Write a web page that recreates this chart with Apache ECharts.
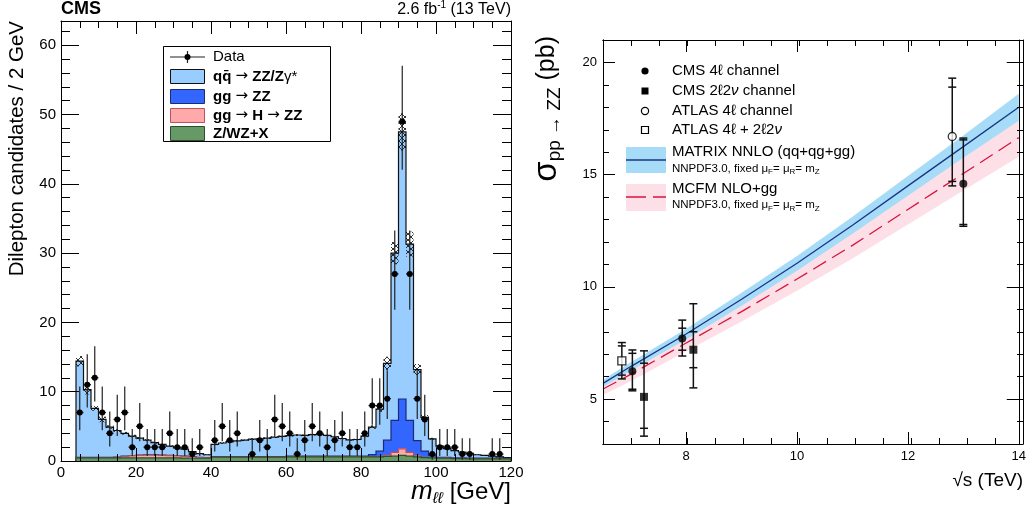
<!DOCTYPE html>
<html><head><meta charset="utf-8">
<script src="https://cdn.jsdelivr.net/npm/echarts@6/dist/echarts.min.js"></script>
<style>html,body{margin:0;padding:0;background:#fff}#c{width:1029px;height:514px}</style>
</head><body><div id="c"></div>
<script>
// ---------------- LEFT PANEL DATA (m_ll, 2 GeV bins) ----------------
const binLow = [4,6,8,10,12,14,16,18,20,22,24,26,28,30,32,34,36,38,40,42,44,46,48,50,52,54,56,58,60,62,64,66,68,70,72,74,76,78,80,82,84,86,88,90,92,94,96,98,100,102,104,106,108,110,112,114,116,118];
const binWidth = 2;
const dataCounts = [7,11,12,7,4,6,7,2,5,2,2,2,4,2,2,1,2,0,
  3,5,3,4,0,1,3,2,6,5,4,1,3,5,4,2,3,4,2,2,4,8,8,9,27,49,27,9,6,1,2,2,2,1,1,0,0,1,1,0];
const zwzx = [0.45,0.45,0.45,0.45,0.45,0.45,0.45,0.45,0.45,0.45,0.45,0.45,0.45,0.45,0.42,0.4,0.4,0.4,
  0.55,0.55,0.55,0.55,0.55,0.55,0.55,0.55,0.55,0.55,
  0.6,0.6,0.6,0.6,0.6,0.6,0.6,0.6,0.6,0.6,0.6,0.6,0.6,
  0.65,0.7,0.8,0.7,0.6,0.5,0.45,0.4,0.4,0.35,0.35,0.3,0.3,0.3,0.3,0.3,0.3];
const ggH = [0.02,0.02,0.02,0.02,0.03,0.08,0.2,0.3,0.35,0.38,0.38,0.36,0.33,0.3,0.25,0.18,0.1,0.05,
  0.02,0.02,0.02,0.02,0.02,0.02,0.02,0.02,0.02,0.02,0.02,0.02,0.02,0.02,0.02,0.02,0.02,0.02,0.02,0.02,0.02,0.02,0.02,
  0.15,0.55,0.95,0.55,0.15,0.03,0.02,0.02,0.02,0.02,0.02,0.02,0.02,0.02,0.02,0.02,0.02];
const ggZZ = [0.04,0.04,0.04,0.04,0.04,0.04,0.04,0.04,0.04,0.04,0.04,0.04,0.04,0.04,0.04,0.04,0.04,0.04,
  0.08,0.08,0.08,0.08,0.08,0.08,0.08,0.08,0.08,0.08,0.08,0.08,0.08,0.08,0.08,0.08,0.08,0.08,0.08,0.08,0.08,
  0.3,0.8,2.2,4.6,7.2,4.6,2.2,0.9,0.35,
  0.1,0.1,0.1,0.1,0.1,0.1,0.1,0.1,0.1,0.1];
const qqZZ = [13.89,9.79,7.09,5.49,4.38,3.83,3.31,2.81,2.46,2.13,1.78,1.55,1.33,1.11,0.99,0.73,0.51,0.41,
  1.75,1.95,2.15,2.25,2.35,2.5,2.55,2.65,2.8,2.9,
  2.95,3.05,3.0,3.1,3.15,3.0,2.8,2.55,2.35,2.4,
  2.9,3.98,6.08,11.1,24.15,38.55,25.45,10.25,4.87,2.38,
  1.63,1.28,1.03,0.83,0.68,0.48,0.38,0.28,0.18,0.08];
const mcUnc = [0.75,0.7,0.35,0.4,0.25,0.2,0.2,0.18,0.15,0.15,0.15,0.12,0.12,0.12,0.1,0.1,0.08,0.08,
  0.12,0.12,0.12,0.12,0.12,0.12,0.12,0.12,0.12,0.12,0.12,0.12,0.12,0.12,0.12,0.12,0.12,0.12,0.12,0.12,
  0.15,0.25,0.4,0.95,1.6,2.7,1.8,0.8,0.35,0.15,
  0.1,0.1,0.08,0.08,0.08,0.06,0.06,0.06,0.06,0.05];
const leftXTicks = [0,20,40,60,80,100,120];
const leftYTicks = [0,10,20,30,40,50,60];

// ---------------- RIGHT PANEL DATA (sigma vs sqrt(s)) ----------------
const sqrtS     = [6.5, 7, 8, 9, 10, 11, 12, 13, 14];
const matrix    = [5.7, 6.45, 7.9, 9.45, 11.05, 12.75, 14.5, 16.25, 18.0];
const matrixLo  = [5.54, 6.26, 7.66, 9.16, 10.72, 12.37, 14.06, 15.75, 17.4];
const matrixHi  = [5.86, 6.64, 8.14, 9.74, 11.38, 13.13, 14.94, 16.75, 18.6];
const mcfm      = [5.45, 6.1, 7.5, 8.9, 10.35, 11.85, 13.45, 15.05, 16.65];
const mcfmLo    = [5.18, 5.8, 7.13, 8.46, 9.83, 11.26, 12.78, 14.3, 15.8];
const mcfmHi    = [5.72, 6.4, 7.88, 9.35, 10.87, 12.44, 14.12, 15.8, 17.5];
// [x, y, statDn, statUp, totDn, totUp]
const cms4l    = [[7.03, 6.24, 0.80, 0.80, 0.87, 0.95], [7.93, 7.7, 0.52, 0.46, 0.78, 0.82], [13.0, 14.6, 1.82, 1.95, 1.9, 2.03]];
const cms2l2v  = [[7.24, 5.1, 1.4, 1.5, 1.75, 2.05], [8.13, 7.2, 0.8, 0.8, 1.7, 2.05]];
const atlas4l  = [[12.8, 16.7, 2.0, 2.2, 2.2, 2.6]];
const atlasAll = [[6.84, 6.7, 0.63, 0.67, 0.8, 0.82]];
const rightXTicks = [8, 10, 12, 14];
const rightYTicks = [5, 10, 15, 20];

// ---------------- helpers ----------------
const FONT = '"Liberation Sans", Arial, Helvetica, sans-serif';
const C_QQ = '#99ccff', C_GG = '#3366ff', C_H = '#ffaaaa', C_X = '#669966';
const S_QQ = '#111111', S_GG = '#1c2a78', S_H = '#c0505a', S_X = '#2a4f2a';

function cumsum(arrs) {
  const out = []; let acc = binLow.map(() => 0);
  arrs.forEach(a => { acc = acc.map((v, i) => v + a[i]); out.push(acc.slice()); });
  return out;
}
const [cX, cH, cGG, cTot] = cumsum([zwzx, ggH, ggZZ, qqZZ]);
const zeros = binLow.map(() => 0);

function garwoodLo(n) { if (n === 0) return 0; return n * Math.pow(1 - 1 / (9 * n) - 1 / (3 * Math.sqrt(n)), 3); }
function garwoodHi(n) { const m = n + 1; return m * Math.pow(1 - 1 / (9 * m) + 1 / (3 * Math.sqrt(m)), 3); }

// hatch pattern
const pc = document.createElement('canvas'); pc.width = 6; pc.height = 6;
(function () { const g = pc.getContext('2d'); g.strokeStyle = '#000'; g.lineWidth = 0.8;
  g.beginPath(); g.moveTo(0, 0); g.lineTo(6, 6); g.moveTo(6, 0); g.lineTo(0, 6); g.stroke(); })();

function stepSeries(name, base, top, fill, stroke) {
  const n = binLow.length;
  return {
    type: 'custom', name, xAxisIndex: 0, yAxisIndex: 0, clip: true, silent: true,
    data: binLow.map((x, i) => [x, top[i]]),
    renderItem: (params, api) => {
      if (params.dataIndex !== 0) return null;
      const pts = [], line = [api.coord([binLow[0], 0])];
      for (let i = 0; i < n; i++) {
        const a = api.coord([binLow[i], top[i]]), b = api.coord([binLow[i] + binWidth, top[i]]);
        pts.push(a, b); line.push(a, b);
      }
      line.push(api.coord([binLow[n - 1] + binWidth, 0]));
      for (let i = n - 1; i >= 0; i--) {
        pts.push(api.coord([binLow[i] + binWidth, base[i]]), api.coord([binLow[i], base[i]]));
      }
      return { type: 'group', children: [
        { type: 'polygon', shape: { points: pts }, style: { fill: fill, stroke: null } },
        { type: 'polyline', shape: { points: line }, style: { fill: null, stroke: stroke, lineWidth: 1.2 } }
      ] };
    }
  };
}

function bandSeries(lo, hi, fill) {
  return {
    type: 'custom', xAxisIndex: 2, yAxisIndex: 2, clip: true, silent: true,
    data: sqrtS.map((x, i) => [x, lo[i], hi[i]]),
    renderItem: (params, api) => {
      if (params.dataIndex !== 0) return null;
      const pts = [];
      for (let i = 0; i < sqrtS.length; i++) pts.push(api.coord([sqrtS[i], hi[i]]));
      for (let i = sqrtS.length - 1; i >= 0; i--) pts.push(api.coord([sqrtS[i], lo[i]]));
      return { type: 'polygon', shape: { points: pts }, style: { fill: fill, stroke: null } };
    }
  };
}

function errSeries(points) {
  return {
    type: 'custom', xAxisIndex: 2, yAxisIndex: 2, silent: true, z: 4,
    data: points,
    renderItem: (params, api) => {
      const x = api.value(0), y = api.value(1);
      const sD = api.value(2), sU = api.value(3), tD = api.value(4), tU = api.value(5);
      const p = api.coord([x, y]);
      const ys = [y - tD, y + tU, y - sD, y + sU].map(v => api.coord([x, v])[1]);
      const st = { stroke: '#111', lineWidth: 1.5 };
      const ch = [{ type: 'line', shape: { x1: p[0], y1: ys[0], x2: p[0], y2: ys[1] }, style: st }];
      ys.forEach(yy => ch.push({ type: 'line', shape: { x1: p[0] - 4, y1: yy, x2: p[0] + 4, y2: yy }, style: st }));
      return { type: 'group', children: ch };
    }
  };
}

function T(x, y, text, o) {
  o = o || {};
  const st = {
    text: text, x: 0, y: 0, fill: '#000',
    fontSize: o.size || 14, fontFamily: FONT, fontWeight: o.weight || 'normal', fontStyle: o.style || 'normal',
    textAlign: o.align || 'left', align: o.align || 'left',
    textVerticalAlign: 'middle', verticalAlign: 'middle'
  };
  if (o.lineHeight) st.lineHeight = o.lineHeight;
  if (o.rich) st.rich = o.rich;
  return { type: 'text', x: x, y: y, rotation: o.rot || 0, z: 100, style: st };
}

// ---------------- chart ----------------
const chart = echarts.init(document.getElementById('c'), null, { renderer: 'canvas' });

const axBase = (extra) => Object.assign({
  type: 'value', splitLine: { show: false },
  axisLine: { show: true, onZero: false, lineStyle: { color: '#000', width: 1 } },
  axisLabel: { show: false },
  z: 10
}, extra);

const option = {
  animation: false,
  backgroundColor: '#fff',
  grid: [
    { left: 61, top: 21, width: 450, height: 440 },
    { left: 603, top: 40, width: 420, height: 404 },
    { left: 603, top: 40, width: 420, height: 404 }
  ],
  xAxis: [
    axBase({ gridIndex: 0, position: 'bottom', min: 0, max: 120, interval: 20,
      axisTick: { inside: true, length: 13, lineStyle: { color: '#000' } },
      minorTick: { show: true, splitNumber: 4, length: 7, lineStyle: { color: '#000' } },
      axisLabel: { show: true, fontSize: 15, color: '#000', fontFamily: FONT, margin: 4 } }),
    axBase({ gridIndex: 0, position: 'top', min: 0, max: 120, interval: 20,
      axisTick: { inside: true, length: 13, lineStyle: { color: '#000' } },
      minorTick: { show: true, splitNumber: 4, length: 7, lineStyle: { color: '#000' } } }),
    axBase({ gridIndex: 1, position: 'bottom', min: 6.5, max: 14,
      axisTick: { inside: true, length: 12, customValues: rightXTicks, lineStyle: { color: '#000' } },
      axisLabel: { show: true, customValues: rightXTicks, fontSize: 13, color: '#000', fontFamily: FONT, margin: 6 } }),
    axBase({ gridIndex: 1, position: 'top', min: 6.5, max: 14,
      axisTick: { inside: true, length: 12, customValues: rightXTicks, lineStyle: { color: '#000' } } }),
    axBase({ gridIndex: 2, position: 'bottom', min: 6.5, max: 14, interval: 0.5,
      axisTick: { inside: true, length: 6, lineStyle: { color: '#000' } } }),
    axBase({ gridIndex: 2, position: 'top', min: 6.5, max: 14, interval: 0.5,
      axisTick: { inside: true, length: 6, lineStyle: { color: '#000' } } })
  ],
  yAxis: [
    axBase({ gridIndex: 0, position: 'left', min: 0, max: 63.5, interval: 10,
      axisTick: { inside: true, length: 18, lineStyle: { color: '#000' } },
      minorTick: { show: true, splitNumber: 5, length: 9, lineStyle: { color: '#000' } },
      axisLabel: { show: true, fontSize: 15, color: '#000', fontFamily: FONT, margin: 5, showMaxLabel: false } }),
    axBase({ gridIndex: 0, position: 'right', min: 0, max: 63.5, interval: 10,
      axisTick: { inside: true, length: 18, lineStyle: { color: '#000' } },
      minorTick: { show: true, splitNumber: 5, length: 9, lineStyle: { color: '#000' } } }),
    axBase({ gridIndex: 1, position: 'left', min: 3, max: 21,
      axisTick: { inside: true, length: 12, customValues: rightYTicks, lineStyle: { color: '#000' } },
      axisLabel: { show: true, customValues: rightYTicks, fontSize: 13, color: '#000', fontFamily: FONT, margin: 6 } }),
    axBase({ gridIndex: 1, position: 'right', min: 3, max: 21,
      axisTick: { inside: true, length: 12, customValues: rightYTicks, lineStyle: { color: '#000' } } }),
    axBase({ gridIndex: 2, position: 'left', min: 3, max: 21, interval: 1,
      axisTick: { inside: true, length: 6, lineStyle: { color: '#000' } } }),
    axBase({ gridIndex: 2, position: 'right', min: 3, max: 21, interval: 1,
      axisTick: { inside: true, length: 6, lineStyle: { color: '#000' } } })
  ],
  series: [
    stepSeries('qqZZ', cGG, cTot, C_QQ, S_QQ),
    stepSeries('ggZZ', cH, cGG, C_GG, S_GG),
    stepSeries('ggH', cX, cH, C_H, S_H),
    stepSeries('ZWZX', zeros, cX, C_X, S_X),
    { // MC uncertainty hatch
      type: 'custom', xAxisIndex: 0, yAxisIndex: 0, clip: true, silent: true,
      data: binLow.map((x, i) => [x, cTot[i] - mcUnc[i], cTot[i] + mcUnc[i]]),
      renderItem: (params, api) => {
        const a = api.coord([api.value(0), api.value(2)]);
        const b = api.coord([api.value(0) + binWidth, api.value(1)]);
        return { type: 'rect', shape: { x: a[0], y: a[1], width: b[0] - a[0], height: b[1] - a[1] },
          style: { fill: { image: pc, repeat: 'repeat' }, stroke: null } };
      }
    },
    { // data points
      type: 'custom', xAxisIndex: 0, yAxisIndex: 0, clip: false, silent: true, z: 5,
      data: binLow.map((x, i) => [x + binWidth / 2, dataCounts[i], garwoodLo(dataCounts[i]), garwoodHi(dataCounts[i])])
                  .filter(d => d[1] > 0),
      renderItem: (params, api) => {
        const x = api.value(0), n = api.value(1);
        const c = api.coord([x, n]), a = api.coord([x - binWidth / 2, n]), b = api.coord([x + binWidth / 2, n]);
        const t = api.coord([x, api.value(3)]), d = api.coord([x, api.value(2)]);
        const st = { stroke: '#222', lineWidth: 1.2 };
        return { type: 'group', children: [
          { type: 'line', shape: { x1: c[0], y1: t[1], x2: c[0], y2: d[1] }, style: st },
          { type: 'line', shape: { x1: a[0], y1: c[1], x2: b[0], y2: c[1] }, style: st },
          { type: 'circle', shape: { cx: c[0], cy: c[1], r: 3 }, style: { fill: '#000' } }
        ] };
      }
    },
    bandSeries(mcfmLo, mcfmHi, '#fde0e7'),
    bandSeries(matrixLo, matrixHi, '#a6dcf7'),
    { type: 'line', xAxisIndex: 2, yAxisIndex: 2, symbol: 'none', silent: true, clip: true,
      data: sqrtS.map((x, i) => [x, mcfm[i]]),
      lineStyle: { color: '#d8143c', width: 1.3, type: [15, 7] } },
    { type: 'line', xAxisIndex: 2, yAxisIndex: 2, symbol: 'none', silent: true, clip: true,
      data: sqrtS.map((x, i) => [x, matrix[i]]),
      lineStyle: { color: '#1a3585', width: 1.3 } },
    errSeries(cms4l), errSeries(cms2l2v), errSeries(atlas4l), errSeries(atlasAll),
    { type: 'scatter', xAxisIndex: 2, yAxisIndex: 2, symbol: 'circle', symbolSize: 8, z: 6, silent: true,
      data: cms4l.map(p => [p[0], p[1]]), itemStyle: { color: '#000' } },
    { type: 'scatter', xAxisIndex: 2, yAxisIndex: 2, symbol: 'rect', symbolSize: 8, z: 6, silent: true,
      data: cms2l2v.map(p => [p[0], p[1]]), itemStyle: { color: '#000' } },
    { type: 'scatter', xAxisIndex: 2, yAxisIndex: 2, symbol: 'circle', symbolSize: 8, z: 6, silent: true,
      data: atlas4l.map(p => [p[0], p[1]]), itemStyle: { color: '#fff', borderColor: '#000', borderWidth: 1.3 } },
    { type: 'scatter', xAxisIndex: 2, yAxisIndex: 2, symbol: 'rect', symbolSize: 8, z: 6, silent: true,
      data: atlasAll.map(p => [p[0], p[1]]), itemStyle: { color: '#fff', borderColor: '#000', borderWidth: 1.3 } }
  ],
  graphic: [
    // ----- left panel texts -----
    T(61, 9, 'CMS', { size: 18, weight: 'bold' }),
    T(511, 10, '2.6 fb{sup|-1} (13 TeV)', { size: 16, align: 'right', lineHeight: 19,
      rich: { sup: { fontSize: 10, lineHeight: 10, verticalAlign: 'top', fontFamily: FONT, fill: '#000' } } }),
    T(17, 21, 'Dilepton candidates / 2 GeV', { size: 20.5, align: 'right', rot: Math.PI / 2 }),
    T(511, 492, '{m|m}{s|ℓℓ} [GeV]', { size: 24, align: 'right', lineHeight: 30,
      rich: { m: { fontSize: 26, fontStyle: 'italic', fontFamily: FONT, lineHeight: 30, fill: '#000' },
              s: { fontSize: 16, fontStyle: 'italic', fontFamily: FONT, lineHeight: 16, verticalAlign: 'bottom', fill: '#000' } } }),
    // left legend
    { type: 'rect', z: 90, shape: { x: 163.5, y: 46.5, width: 167, height: 95 }, style: { fill: '#fff', stroke: '#000', lineWidth: 1 } },
    { type: 'line', z: 95, shape: { x1: 170, y1: 57, x2: 205, y2: 57 }, style: { stroke: '#222', lineWidth: 1.2 } },
    { type: 'line', z: 95, shape: { x1: 187.5, y1: 51, x2: 187.5, y2: 63 }, style: { stroke: '#222', lineWidth: 1.2 } },
    { type: 'circle', z: 95, shape: { cx: 187.5, cy: 57, r: 3 }, style: { fill: '#000' } },
    { type: 'rect', z: 95, shape: { x: 170.5, y: 69.5, width: 34, height: 14 }, style: { fill: C_QQ, stroke: S_QQ, lineWidth: 1 } },
    { type: 'rect', z: 95, shape: { x: 170.5, y: 89.5, width: 34, height: 14 }, style: { fill: C_GG, stroke: S_GG, lineWidth: 1 } },
    { type: 'rect', z: 95, shape: { x: 170.5, y: 108.5, width: 34, height: 14 }, style: { fill: C_H, stroke: S_H, lineWidth: 1 } },
    { type: 'rect', z: 95, shape: { x: 170.5, y: 126.5, width: 34, height: 14 }, style: { fill: C_X, stroke: S_X, lineWidth: 1 } },
    T(213, 57, 'Data', { size: 15 }),
    T(213, 76.5, 'qq\u0304 {a|\u2192} ZZ/Z{n|\u03b3*}', { size: 15, weight: 'bold',
      rich: { n: { fontSize: 15, fontFamily: FONT, fontWeight: 'normal', fill: '#000' },
              a: { fontSize: 15, fontFamily: '"DejaVu Sans", sans-serif', fontWeight: 'normal', fill: '#000' } } }),
    T(213, 96.5, 'gg {a|\u2192} ZZ', { size: 15, weight: 'bold',
      rich: { a: { fontSize: 15, fontFamily: '"DejaVu Sans", sans-serif', fontWeight: 'normal', fill: '#000' } } }),
    T(213, 115.5, 'gg {a|\u2192} H {a|\u2192} ZZ', { size: 15, weight: 'bold',
      rich: { a: { fontSize: 15, fontFamily: '"DejaVu Sans", sans-serif', fontWeight: 'normal', fill: '#000' } } }),
    T(213, 133.5, 'Z/WZ+X', { size: 15, weight: 'bold' }),
    // ----- right panel texts -----
    T(547, 36, '{g|\u03c3}{s|pp \u2192 ZZ} (pb)', { size: 25, align: 'right', rot: Math.PI / 2, lineHeight: 34,
      rich: { g: { fontSize: 33, fontFamily: FONT, lineHeight: 34, fill: '#000' },
              s: { fontSize: 19, fontFamily: FONT, lineHeight: 18, verticalAlign: 'bottom', fill: '#000' } } }),
    T(1023, 481, '\u221as (TeV)', { size: 19, align: 'right' }),
    // right legend
    { type: 'circle', z: 95, shape: { cx: 645, cy: 71, r: 3.6 }, style: { fill: '#000' } },
    { type: 'rect', z: 95, shape: { x: 641.5, y: 87.5, width: 7, height: 7 }, style: { fill: '#000' } },
    { type: 'circle', z: 95, shape: { cx: 645, cy: 111, r: 3.6 }, style: { fill: '#fff', stroke: '#000', lineWidth: 1.2 } },
    { type: 'rect', z: 95, shape: { x: 641.5, y: 126.5, width: 7, height: 7 }, style: { fill: '#fff', stroke: '#000', lineWidth: 1.2 } },
    T(672, 71, 'CMS 4\u2113 channel', { size: 15 }),
    T(672, 91, 'CMS 2\u21132{i|\u03bd} channel', { size: 15, rich: { i: { fontSize: 15, fontStyle: 'italic', fontFamily: FONT, fill: '#000' } } }),
    T(672, 111, 'ATLAS 4\u2113 channel', { size: 15 }),
    T(672, 130, 'ATLAS 4\u2113 + 2\u21132{i|\u03bd}', { size: 15, rich: { i: { fontSize: 15, fontStyle: 'italic', fontFamily: FONT, fill: '#000' } } }),
    { type: 'rect', z: 95, shape: { x: 626, y: 147, width: 40, height: 26 }, style: { fill: '#a6dcf7' } },
    { type: 'line', z: 96, shape: { x1: 626, y1: 160, x2: 666, y2: 160 }, style: { stroke: '#1a3585', lineWidth: 1.5 } },
    { type: 'rect', z: 95, shape: { x: 626, y: 184, width: 40, height: 27 }, style: { fill: '#fde0e7' } },
    { type: 'line', z: 96, shape: { x1: 626, y1: 197, x2: 666, y2: 197 }, style: { stroke: '#d8143c', lineWidth: 1.5, lineDash: [20, 7] } },
    T(672, 152, 'MATRIX NNLO (qq+qg+gg)', { size: 15 }),
    T(672, 168.5, 'NNPDF3.0, fixed \u03bc{s|F}= \u03bc{s|R}= m{s|Z}', { size: 11.5, lineHeight: 15,
      rich: { s: { fontSize: 8, fontFamily: FONT, lineHeight: 8, verticalAlign: 'bottom', fill: '#000' } } }),
    T(672, 189, 'MCFM NLO+gg', { size: 15 }),
    T(672, 205, 'NNPDF3.0, fixed \u03bc{s|F}= \u03bc{s|R}= m{s|Z}', { size: 11.5, lineHeight: 15,
      rich: { s: { fontSize: 8, fontFamily: FONT, lineHeight: 8, verticalAlign: 'bottom', fill: '#000' } } })
  ]
};
chart.setOption(option);
</script>
</body></html>
